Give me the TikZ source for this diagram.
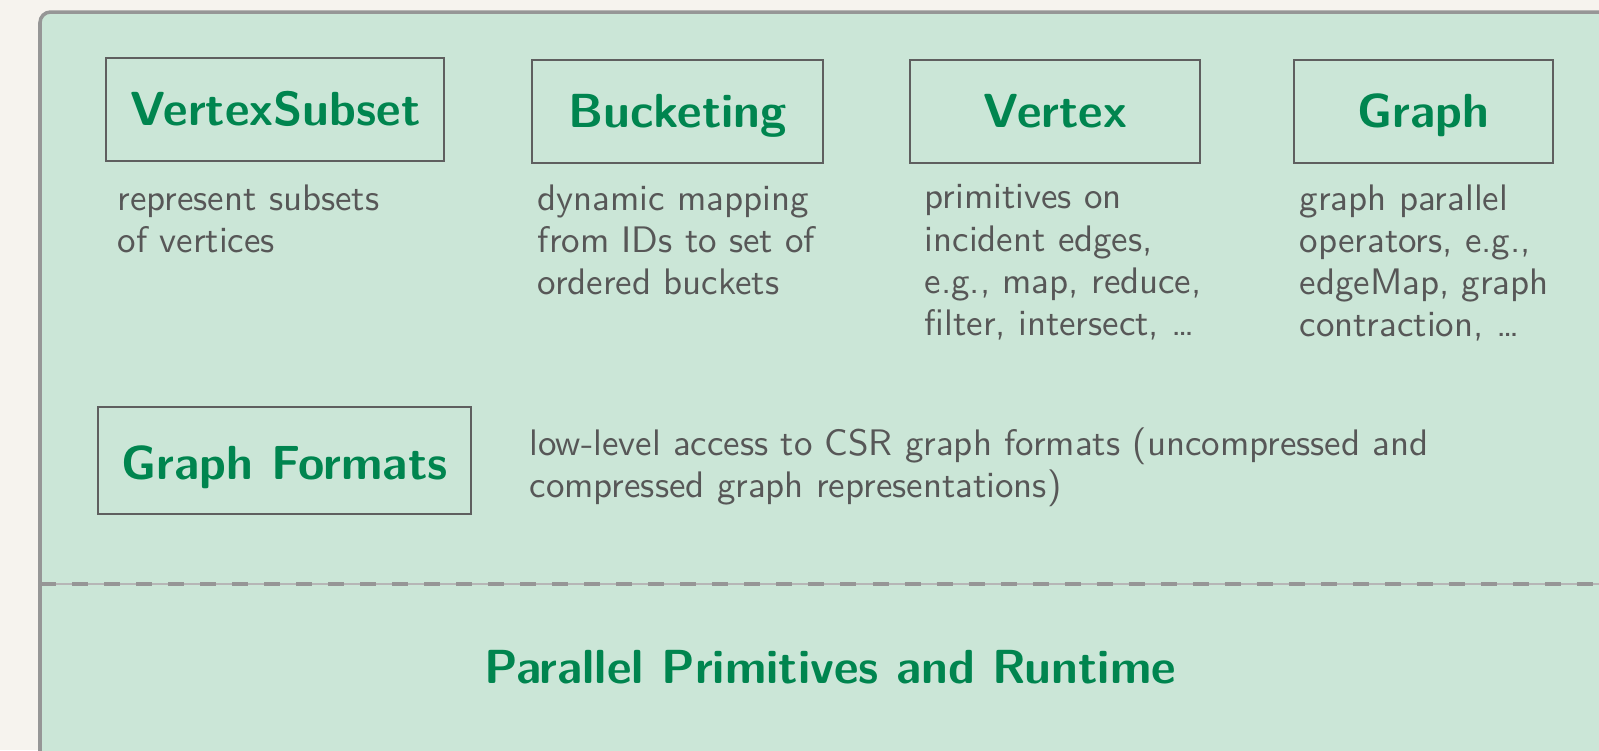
\documentclass[tikz,border=0pt]{standalone}
\usepackage{tikz}
\usetikzlibrary{positioning}

\definecolor{pagebg}{HTML}{F6F3EE}
\definecolor{panelfill}{HTML}{CBE6D7}
\definecolor{panelline}{HTML}{969696}
\definecolor{boxline}{HTML}{5F5F5F}
\definecolor{titlegreen}{HTML}{00854F}
\definecolor{descgray}{HTML}{575757}

\newcommand{\modtitlefont}{\fontsize{13.6}{16}\selectfont\sffamily\bfseries}
\newcommand{\moddescfont}{\fontsize{10.5}{12}\selectfont\sffamily}

\begin{document}
\begin{tikzpicture}[x=0.01cm, y=-0.01cm]

% ---- Define Styles ----
\tikzset{
  modbox/.style={
    draw=boxline, line width=0.6pt, minimum height=1.03cm, inner sep=0pt,
    text height=10pt, text depth=1.2pt,
    font=\modtitlefont, text=titlegreen, align=center, anchor=north west
  },
  desctext/.style={
    font=\moddescfont, text=descgray, align=left, inner sep=0pt, anchor=north west
  }
}

% =========================================================
% CANVAS AND PANEL
% Picture is 1599 x 750 units, panel runs off right/bottom
% =========================================================
\useasboundingbox (0,0) rectangle (1599,750);
\clip (0,0) rectangle (1599,750);
\fill[pagebg] (0,0) rectangle (1599,750);
\draw[panelline, fill=panelfill, line width=1pt, rounded corners=3pt] (40,12) rectangle (1660,800);

% =========================================================
% TOP ROW: module boxes
% =========================================================
\node[modbox, minimum width=3.38cm] (vsub)   at (105,57) {VertexSubset};
\node[modbox, minimum width=2.91cm] (bucket) at (531,59) {Bucketing};
\node[modbox, minimum width=2.90cm] (vertex) at (909,59) {Vertex};
\node[modbox, minimum width=2.59cm] (graph)  at (1293,59) {Graph};

% descriptions under each box
\node[desctext] (vsubtxt)   at (117,184) {represent subsets\\of vertices};
\node[desctext] (buckettxt) at (537,184) {dynamic mapping\\from IDs to set of\\ordered buckets};
\node[desctext] (vertextxt) at (924,184) {primitives on\\incident edges,\\e.g., map, reduce,\\filter, intersect, \dots};
\node[desctext] (graphtxt)  at (1299,184) {graph parallel\\operators, e.g.,\\edgeMap, graph\\contraction, \dots};

% =========================================================
% MIDDLE ROW: graph formats
% =========================================================
\node[modbox, minimum width=3.73cm, minimum height=1.07cm, text height=11pt, text depth=0pt] (formats) at (97,406) {Graph Formats};
\node[desctext] (formatstxt) at (529,427)
  {low-level access to CSR graph formats (uncompressed and\\compressed graph representations)};

% =========================================================
% SEPARATOR AND RUNTIME LAYER
% =========================================================
\coordinate (sepL) at (40,584);
\coordinate (sepR) at (1599,584);
\draw[panelline!70, line width=0.3pt] (sepL) -- (sepR);
\draw[panelline, line width=1pt, dash pattern=on 0.16cm off 0.16cm] (sepL) -- (sepR);

\node[font=\modtitlefont, text=titlegreen] (runtime) at (830,667) {Parallel Primitives and Runtime};

\end{tikzpicture}
\end{document}
